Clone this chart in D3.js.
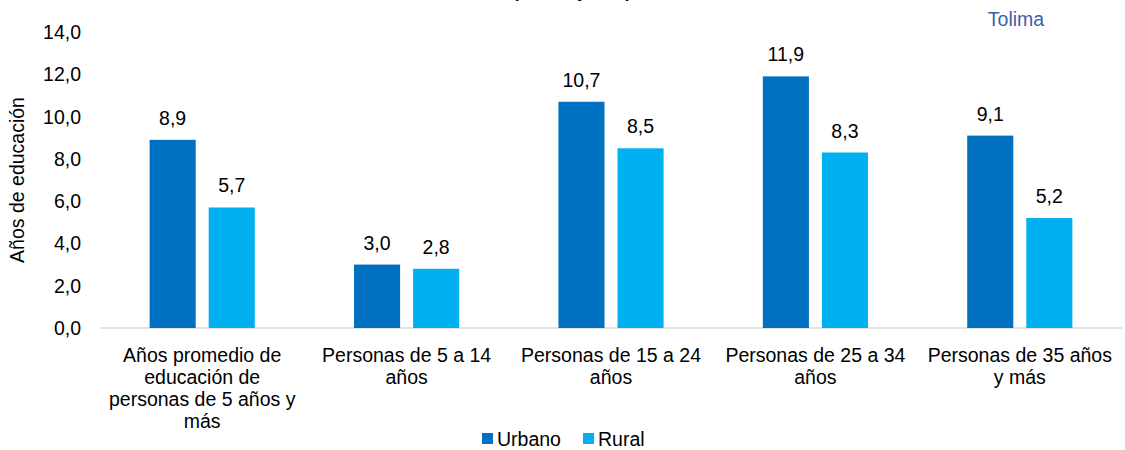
<!DOCTYPE html>
<html>
<head>
<meta charset="utf-8">
<script src="https://cdn.jsdelivr.net/npm/d3@7/dist/d3.min.js"></script>
<style>
	body { margin: 0; background: #fff; }
	svg text { font-family: "Liberation Sans", Arial, sans-serif; fill: #000; }
</style>
</head>
<body>
<div class="chart"></div>
<script>
var categories = [
	["Años promedio de", "educación de", "personas de 5 años y", "más"],
	["Personas de 5 a 14", "años"],
	["Personas de 15 a 24", "años"],
	["Personas de 25 a 34", "años"],
	["Personas de 35 años", "y más"]
];
var seriesNames = ["Urbano", "Rural"];
var urbano = [8.9, 3.0, 10.7, 11.9, 9.1];
var rural = [5.7, 2.8, 8.5, 8.3, 5.2];
var yTicks = [0, 2, 4, 6, 8, 10, 12, 14];
var colors = ["#0070C0", "#00B0F0"];

var width = 1125;
var height = 450;
var plotLeft = 100, plotRight = 1122, plotTop = 32, plotBottom = 328;

var svg = d3.select(".chart")
	.append("svg")
	.attr("width", width)
	.attr("height", height);

var fmt = function(v) { return v.toFixed(1).replace(".", ","); };

var x = d3.scaleBand()
	.domain(d3.range(categories.length))
	.range([plotLeft, plotRight]);

var xInner = d3.scaleBand()
	.domain(seriesNames)
	.range([0, x.bandwidth()])
	.paddingInner(0.22)
	.paddingOuter(0.84);

var y = d3.scaleLinear()
	.domain([0, 14])
	.range([plotBottom, plotTop]);

// title, cut off at the top edge as in the source image
svg.append("text")
	.attr("x", 572)
	.attr("y", -2)
	.attr("text-anchor", "middle")
	.style("font-size", "17px")
	.style("font-weight", "bold")
	.text("(5 años y más)");

svg.append("text")
	.attr("x", 1016)
	.attr("y", 26)
	.attr("text-anchor", "middle")
	.style("font-size", "19.5px")
	.style("fill", "#3C5FA8")
	.text("Tolima");

// baseline
svg.append("line")
	.attr("x1", plotLeft)
	.attr("x2", plotRight)
	.attr("y1", y(0))
	.attr("y2", y(0))
	.attr("stroke", "#D9D9D9")
	.attr("stroke-width", 1.5);

// y ticks
svg.append("g")
	.selectAll("text")
	.data(yTicks)
	.enter()
	.append("text")
	.attr("x", 81)
	.attr("y", function(d) { return y(d) + 7; })
	.attr("text-anchor", "end")
	.style("font-size", "19.5px")
	.text(fmt);

svg.append("text")
	.attr("transform", "translate(24,180) rotate(-90)")
	.attr("text-anchor", "middle")
	.style("font-size", "19.5px")
	.text("Años de educación");

var rows = categories.map(function(c, i) {
	return { i: i, values: [urbano[i], rural[i]] };
});

var group = svg.append("g")
	.selectAll("g")
	.data(rows)
	.enter()
	.append("g")
	.attr("transform", function(d) { return "translate(" + x(d.i) + ",0)"; });

group.selectAll("rect")
	.data(function(d) { return d.values.map(function(v, k) { return { k: k, v: v }; }); })
	.enter()
	.append("rect")
	.attr("x", function(d) { return xInner(seriesNames[d.k]); })
	.attr("width", xInner.bandwidth())
	.attr("y", function(d) { return y(d.v); })
	.attr("height", function(d) { return y(0) - y(d.v); })
	.attr("fill", function(d) { return colors[d.k]; });

group.selectAll(".value")
	.data(function(d) { return d.values.map(function(v, k) { return { k: k, v: v }; }); })
	.enter()
	.append("text")
	.attr("class", "value")
	.attr("x", function(d) { return xInner(seriesNames[d.k]) + xInner.bandwidth() / 2; })
	.attr("y", function(d) { return y(d.v) - 15; })
	.attr("text-anchor", "middle")
	.style("font-size", "19.5px")
	.text(function(d) { return fmt(d.v); });

// category labels
var labels = svg.append("g")
	.selectAll("text")
	.data(categories)
	.enter()
	.append("text")
	.attr("x", function(d, i) { return x(i) + x.bandwidth() / 2; })
	.attr("y", 362)
	.attr("text-anchor", "middle")
	.style("font-size", "19.5px");

labels.selectAll("tspan")
	.data(function(d) { return d; })
	.enter()
	.append("tspan")
	.attr("x", function() { return d3.select(this.parentNode).attr("x"); })
	.attr("dy", function(d, k) { return k === 0 ? 0 : 22; })
	.text(function(d) { return d; });

// legend
var legendX = [482, 583];
var legend = svg.append("g")
	.selectAll("g")
	.data(seriesNames)
	.enter()
	.append("g")
	.attr("transform", function(d, k) { return "translate(" + legendX[k] + ",433)"; });

legend.append("rect")
	.attr("width", 11)
	.attr("height", 11)
	.attr("fill", function(d, k) { return colors[k]; });

legend.append("text")
	.attr("x", 15)
	.attr("y", 13)
	.style("font-size", "19.5px")
	.text(function(d) { return d; });
</script>
</body>
</html>
